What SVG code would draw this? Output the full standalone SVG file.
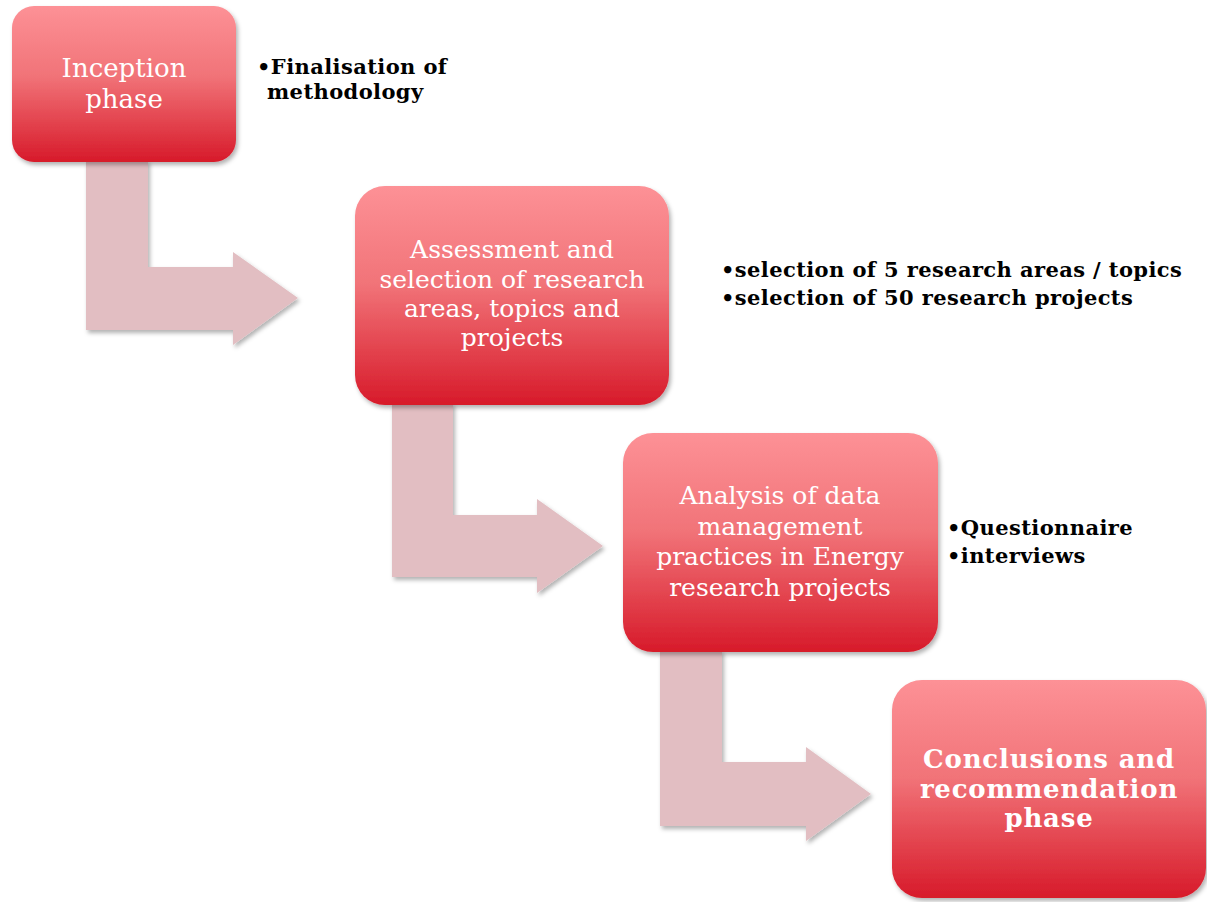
<svg xmlns="http://www.w3.org/2000/svg" width="1207" height="902" viewBox="0 0 1207 902">
  <style>
    .box { fill: url(#boxGrad); filter: url(#shadow); }
    .arrow { fill: #e2bec2; filter: url(#shadow); }
    .boxText { font-family: "DejaVu Serif", "Liberation Serif", serif; font-size: 25px; fill: #ffffff; text-anchor: middle; }
    .big { font-size: 26px; }
    .boxBold { font-family: "DejaVu Serif", "Liberation Serif", serif; font-size: 26px; font-weight: bold; letter-spacing: 0.8px; fill: #ffffff; text-anchor: middle; }
    .bullet { font-family: "DejaVu Serif", "Liberation Serif", serif; font-size: 21px; font-weight: bold; letter-spacing: 0.4px; fill: #000000; }
  </style>
  <defs>
    <linearGradient id="boxGrad" x1="0" y1="0" x2="0" y2="1">
      <stop offset="0" stop-color="#fd9196"/>
      <stop offset="0.45" stop-color="#f17378"/>
      <stop offset="1" stop-color="#d71a2a"/>
    </linearGradient>
    <filter id="shadow" x="-10%" y="-10%" width="125%" height="125%">
      <feDropShadow dx="2" dy="3" stdDeviation="2" flood-color="#000000" flood-opacity="0.3"/>
    </filter>
  </defs>

  <g id="connectors">
    <path class="arrow" d="M86,160 L148,160 L148,267 L233,267 L233,252 L298,298 L233,345 L233,330 L86,330 Z"/>
    <path class="arrow" d="M392,403 L453,403 L453,515 L537,515 L537,499 L603,546 L537,593 L537,577 L392,577 Z"/>
    <path class="arrow" d="M660,650 L722,650 L722,762 L806,762 L806,747 L871,794 L806,841 L806,826 L660,826 Z"/>
  </g>

  <g id="node-inception">
    <rect class="box" x="12" y="6" width="224" height="156" rx="22" ry="22"/>
    <text class="boxText big" x="124" y="77">Inception</text>
    <text class="boxText big" x="124" y="108">phase</text>
  </g>

  <g id="note-inception">
    <text class="bullet" x="257" y="74">•Finalisation of</text>
    <text class="bullet" x="267" y="99">methodology</text>
  </g>

  <g id="node-assessment">
    <rect class="box" x="355" y="186" width="314" height="219" rx="30" ry="30"/>
    <text class="boxText" x="512" y="258">Assessment and</text>
    <text class="boxText" x="512" y="288">selection of research</text>
    <text class="boxText" x="512" y="317">areas, topics and</text>
    <text class="boxText" x="512" y="346">projects</text>
  </g>

  <g id="note-assessment">
    <text class="bullet" x="721" y="277">•selection of 5 research areas / topics</text>
    <text class="bullet" x="721" y="305">•selection of 50 research projects</text>
  </g>

  <g id="node-analysis">
    <rect class="box" x="623" y="433" width="315" height="219" rx="30" ry="30"/>
    <text class="boxText" x="780" y="504">Analysis of data</text>
    <text class="boxText" x="780" y="535">management</text>
    <text class="boxText" x="780" y="565">practices in Energy</text>
    <text class="boxText" x="780" y="596">research projects</text>
  </g>

  <g id="note-analysis">
    <text class="bullet" x="947" y="535">•Questionnaire</text>
    <text class="bullet" x="947" y="563">•interviews</text>
  </g>

  <g id="node-conclusions">
    <rect class="box" x="892" y="680" width="314" height="218" rx="30" ry="30"/>
    <text class="boxBold" x="1049" y="768">Conclusions and</text>
    <text class="boxBold" x="1049" y="798">recommendation</text>
    <text class="boxBold" x="1049" y="827">phase</text>
  </g>
</svg>
